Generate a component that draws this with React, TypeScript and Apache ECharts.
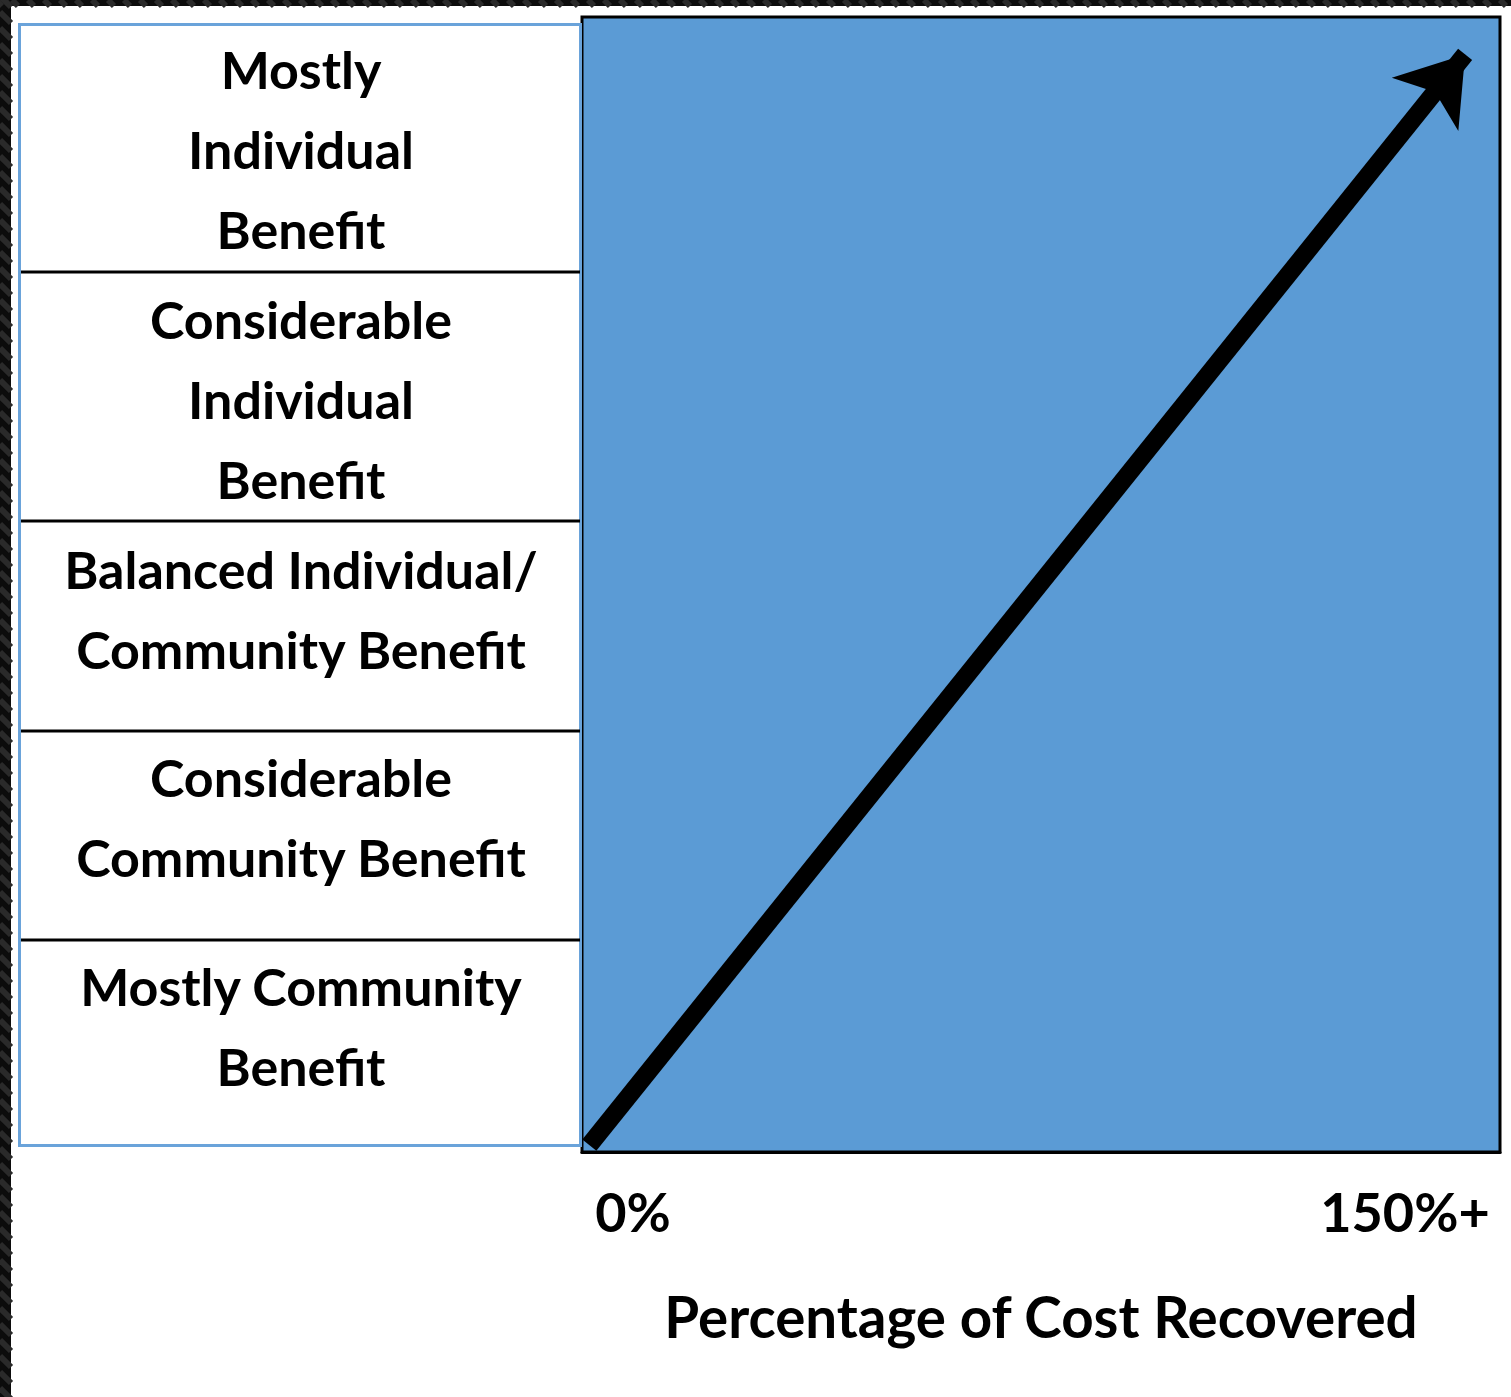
import React, { useEffect, useRef } from "react";
import * as echarts from "echarts";

const rowLabels: string[] = [
  "Mostly\nIndividual\nBenefit",
  "Considerable\nIndividual\nBenefit",
  "Balanced Individual/\nCommunity Benefit",
  "Considerable\nCommunity Benefit",
  "Mostly Community\nBenefit",
];
const xTickLabels: string[] = ["0%", "150%+"];
const xAxisTitle = "Percentage of Cost Recovered";
const xMin = 0;
const xMax = 150;
const yMin = 0;
const yMax = 100;
const arrowStart: [number, number] = [1.2, 0.6];
const arrowEnd: [number, number] = [144.3, 96.7];

const FONT = "Lato, 'Open Sans', sans-serif";

export default function App() {
  const ref = useRef<HTMLDivElement>(null);
  useEffect(() => {
    if (!ref.current) return;
    const chart = echarts.init(ref.current, undefined, { renderer: "svg" });

    const rowBounds = [24, 272, 521, 731, 940, 1146];
    const rowTextTop = [29, 279, 529, 737, 946];
    const graphics: any[] = [];
    // dark screenshot frame
    graphics.push({ type: "rect", shape: { x: 0, y: 0, width: 1511, height: 6 }, style: { fill: "#0c0c0c" }, silent: true });
    graphics.push({ type: "rect", shape: { x: 0, y: 0, width: 11, height: 1397 }, style: { fill: "#0c0c0c" }, silent: true });
    for (let i = -20; i < 1600; i += 16) {
      graphics.push({ type: "line", shape: { x1: i, y1: 0, x2: i + 6, y2: 6 }, style: { stroke: "#2a2a2a", lineWidth: 6 }, silent: true });
    }
    for (let i = -20; i < 1420; i += 16) {
      graphics.push({ type: "line", shape: { x1: 0, y1: i, x2: 11, y2: i + 11 }, style: { stroke: "#2a2a2a", lineWidth: 6 }, silent: true });
    }
    // table
    graphics.push({
      type: "rect",
      shape: { x: 19.5, y: 24.5, width: 561, height: 1121 },
      style: { fill: "#fff", stroke: "#6aa3da", lineWidth: 3 },
      silent: true,
    });
    for (let i = 1; i < rowBounds.length - 1; i++) {
      graphics.push({
        type: "line",
        shape: { x1: 21, y1: rowBounds[i], x2: 580, y2: rowBounds[i] },
        style: { stroke: "#000", lineWidth: 3 },
        silent: true,
      });
    }
    rowLabels.forEach((t, i) => {
      graphics.push({
        type: "text",
        x: 301,
        y: rowTextTop[i],
        style: {
          text: t,
          fill: "#000",
          font: `bold 52px ${FONT}`,
          textAlign: "center",
          textVerticalAlign: "top",
          lineHeight: 80,
        },
        silent: true,
      });
    });

    chart.setOption({
      animation: false,
      backgroundColor: "#fff",
      graphic: { elements: graphics },
      grid: {
        left: 582,
        top: 17,
        right: 11,
        bottom: 245,
        show: true,
        backgroundColor: "#5b9bd5",
        borderColor: "#000",
        borderWidth: 3,
      },
      xAxis: {
        type: "value",
        min: xMin,
        max: xMax,
        interval: xMax - xMin,
        axisLine: { show: true, lineStyle: { color: "#000", width: 3 } },
        axisTick: { show: false },
        splitLine: { show: false },
        axisLabel: {
          margin: 32,
          formatter: (v: number) => (v === xMin ? `{a|${xTickLabels[0]}}` : `{b|${xTickLabels[1]}}`),
          rich: {
            a: { fontFamily: FONT, fontWeight: "bold", fontSize: 54, color: "#000", padding: [0, 0, 0, 102] },
            b: { fontFamily: FONT, fontWeight: "bold", fontSize: 54, color: "#000", padding: [0, 190, 0, 0] },
          },
        },
        name: xAxisTitle,
        nameLocation: "middle",
        nameGap: 135,
        nameTextStyle: { fontFamily: FONT, fontWeight: "bold", fontSize: 56.5, color: "#000" },
      },
      yAxis: {
        type: "value",
        min: yMin,
        max: yMax,
        axisLine: { show: false },
        axisTick: { show: false },
        axisLabel: { show: false },
        splitLine: { show: false },
      },
      series: [
        {
          type: "lines",
          coordinateSystem: "cartesian2d",
          data: [{ coords: [arrowStart, arrowEnd] }],
          symbol: ["none", "arrow"],
          symbolSize: [46, 64],
          lineStyle: { color: "#000", width: 18, opacity: 1, cap: "butt" },
          silent: true,
        },
      ],
    });
    return () => chart.dispose();
  }, []);
  return (
    <div
      ref={ref}
      style={{ position: "absolute", left: 0, top: 0, width: 1511, height: 1397 }}
    />
  );
}
